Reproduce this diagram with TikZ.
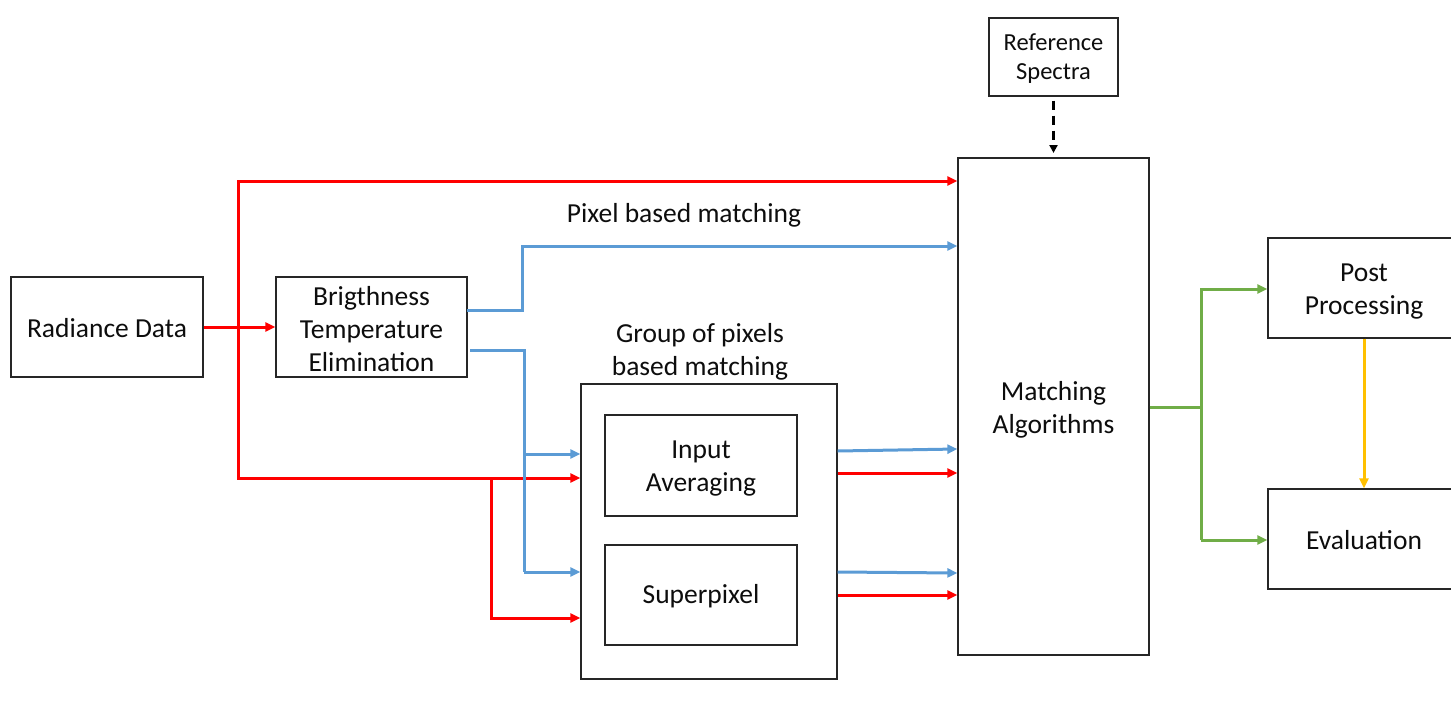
\documentclass[tikz,border=0pt]{standalone}
\usepackage{fontspec}
\setmainfont{Carlito}
\usetikzlibrary{arrows.meta}
\definecolor{cred}{HTML}{FF0000}
\definecolor{cblue}{HTML}{5B9BD5}
\definecolor{cgreen}{HTML}{70AD47}
\definecolor{cyellow}{HTML}{FFC000}
\definecolor{cframe}{HTML}{262626}
\newcommand{\boxfont}{\fontsize{27.5}{33}\selectfont}
\newcommand{\smallboxfont}{\fontsize{24.5}{29}\selectfont}
\tikzset{
  box/.style={draw=cframe, line width=1.3pt, fill=white, inner sep=0pt},
  txt/.style={align=center, font=\boxfont, text=black!95, inner sep=0pt},
  tip/.style={-{Triangle[length=10pt,width=9pt]}},
  redl/.style={draw=cred, line width=3pt},
  bluel/.style={draw=cblue, line width=3pt},
  greenl/.style={draw=cgreen, line width=3pt},
  yell/.style={draw=cyellow, line width=3pt},
}
\begin{document}
\begin{tikzpicture}[x=1pt,y=-1pt]
\useasboundingbox (0,0) rectangle (1451,701);

% boxes
\node[box, minimum width=192pt, minimum height=100pt] (rad) at (107,327) {};
\node[box, minimum width=191pt, minimum height=100pt] (bte) at (371.5,327) {};
\node[box, minimum width=129pt, minimum height=78pt] (ref) at (1053.5,57) {};
\node[box, minimum width=191pt, minimum height=497pt] (ma) at (1053.5,406.5) {};
\node[box, minimum width=192pt, minimum height=100pt] (pp) at (1364,288) {};
\node[box, minimum width=192pt, minimum height=100pt] (ev) at (1364,539) {};
\node[box, minimum width=256pt, minimum height=295pt] (grp) at (709,531.5) {};
\node[box, minimum width=192pt, minimum height=101pt] (ia) at (701,465.5) {};
\node[box, minimum width=192pt, minimum height=100pt] (sp) at (701,595) {};

% box texts
\node[txt] (radt) at ([yshift=-1.5pt]rad.center) {Radiance Data};
\node[txt] (btet) at ([yshift=-2pt]bte.center) {Brigthness\\Temperature\\Elimination};
\node[txt, font=\smallboxfont] (reft) at ([yshift=-2pt]ref.center) {Reference\\Spectra};
\node[txt] (mat) at ([yshift=-3.5pt]ma.center) {Matching\\Algorithms};
\node[txt] (ppt) at ([yshift=-3.5pt]pp.center) {Post\\Processing};
\node[txt] (evt) at ([yshift=-1.5pt]ev.center) {Evaluation};
\node[txt] (iat) at ([yshift=-3.5pt]ia.center) {Input\\Averaging};
\node[txt] (spt) at ([yshift=-1.5pt]sp.center) {Superpixel};

% free labels
\node[txt] (pbm) at (684,215.5) {Pixel based matching};
\node[txt] (gpm) at (700,352) {Group of pixels\\based matching};

% junction points
\coordinate (rj) at (238,327);
\coordinate (rtop) at (238,181);
\coordinate (rbot) at (238,478);
\coordinate (rsplit) at (491,478);
\coordinate (rlow) at (491,618);
\coordinate (bhi) at (467,310);
\coordinate (bup) at (522,310);
\coordinate (btop) at (522,246);
\coordinate (blo) at (470,350);
\coordinate (bdn) at (524,350);
\coordinate (bmid) at (524,454);
\coordinate (bend) at (524,572);
\coordinate (gj) at (1201,407);
\coordinate (gtop) at (1201,289);
\coordinate (gbot) at (1201,540);

% radiance data paths (red)
\draw[redl, tip] (rad.east) -- (bte.west);
\draw[redl, tip] (rbot) -- (rtop) -- (ma.west |- rtop);
\draw[redl, tip] (rj) -- (rbot) -- (grp.west |- rbot);
\draw[redl, tip] (rsplit) -- (rlow) -- (grp.west |- rlow);
\draw[redl, tip] (grp.east |- 0,473) -- (ma.west |- 0,473);
\draw[redl, tip] (grp.east |- 0,595) -- (ma.west |- 0,595);

% brightness temperature paths (blue)
\draw[bluel, tip] (bhi) -- (bup) -- (btop) -- (ma.west |- btop);
\draw[bluel] (blo) -- (bdn) -- (bend);
\draw[bluel, tip] (bmid) -- (grp.west |- bmid);
\draw[bluel, tip] (bend) -- (grp.west |- bend);
\draw[bluel, tip] (grp.east |- 0,451) -- (ma.west |- 0,449);
\draw[bluel, tip] (grp.east |- 0,572) -- (ma.west |- 0,573);

% reference spectra (dashed)
\draw[draw=black, line width=2.4pt, dash pattern=on 9pt off 6pt,
  -{Triangle[length=8pt,width=8pt]}] (ref.south) ++(0,4) -- (ma.north |- 0,153);

% outputs (green)
\draw[greenl] (ma.east |- gj) -- (gj);
\draw[greenl, tip] (gbot) -- (gtop) -- (pp.west |- gtop);
\draw[greenl, tip] (gbot) -- (ev.west |- gbot);

% post processing to evaluation (yellow)
\draw[yell, tip] (pp.south) -- (ev.north);
\end{tikzpicture}
\end{document}
